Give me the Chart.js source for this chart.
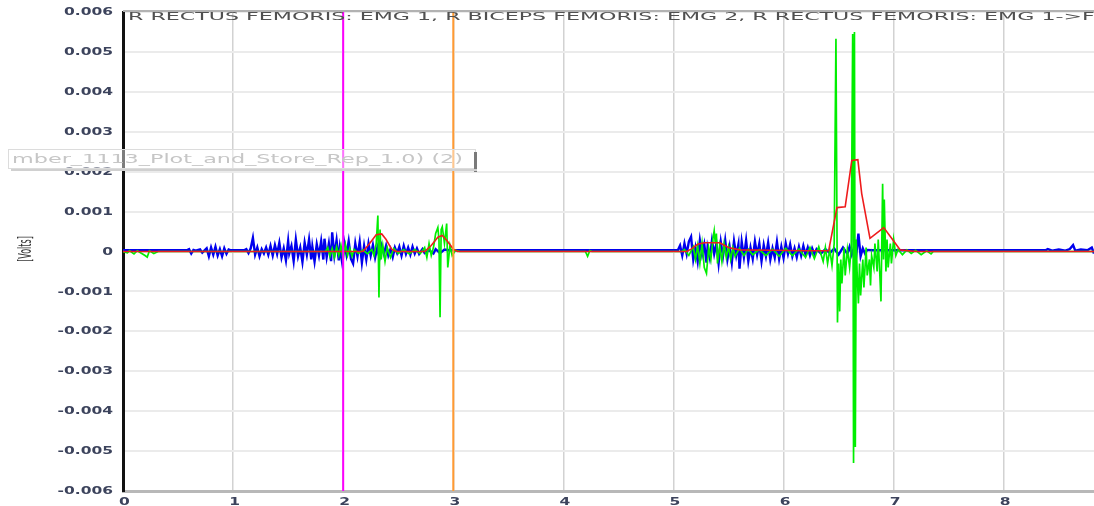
<!DOCTYPE html>
<html>
<head>
<meta charset="utf-8">
<script src="https://cdn.jsdelivr.net/npm/chart.js@4"></script>
<style>
  html, body { margin: 0; padding: 0; background: #fff; overflow: hidden; }
  #wrap { position: relative; width: 1094px; height: 506px; }
</style>
</head>
<body>
<div id="wrap"><canvas id="c" width="1094" height="506"></canvas></div>
<script>
// Signals as [time (s), millivolts]
const rectusEmg1 = [
  [0,0.03],[0.58,0.03],
  [0.6,0.06],[0.62,-0.05],[0.64,0.04],[0.66,0.02],[0.7,0.05],[0.72,-0.03],[0.76,0.08],[0.78,-0.12],[0.8,0.1],[0.82,-0.08],
  [0.84,0.12],[0.86,-0.1],[0.88,0.06],[0.9,-0.12],[0.92,0.08],[0.94,-0.06],[0.96,0.05],[0.98,0.03],[1.1,0.03],
  [1.12,0.06],[1.14,-0.04],[1.16,0.08],[1.18,0.34],[1.2,-0.08],[1.22,0.1],[1.24,-0.12],[1.26,0.06],[1.28,-0.05],[1.3,0.1],
  [1.32,-0.08],[1.34,0.14],
  [1.36,-0.1],[1.38,0.16],[1.40,-0.06],[1.42,0.22],[1.44,-0.15],[1.46,0.08],[1.48,-0.22],[1.50,0.26],[1.51,-0.05],[1.53,0.14],
  [1.55,-0.24],[1.57,0.3],[1.59,-0.12],[1.61,0.1],[1.63,-0.26],[1.65,0.22],[1.67,-0.08],[1.69,0.3],[1.71,-0.2],[1.72,0.12],
  [1.74,-0.25],[1.76,0.18],[1.78,-0.1],[1.80,0.26],[1.82,-0.2],[1.83,0.32],[1.85,-0.14],[1.87,0.2],[1.89,-0.24],[1.90,0.48],
  [1.92,-0.1],[1.94,0.28],[1.96,-0.22],[1.97,0.1],[1.99,-0.26],[2.01,0.22],[2.03,-0.08],[2.05,0.26],[2.07,-0.18],[2.09,-0.3],
  [2.11,0.2],[2.13,-0.12],[2.15,0.24],[2.17,-0.28],[2.19,0.14],[2.21,-0.2],[2.23,0.2],[2.25,-0.1],[2.27,0.16],[2.29,-0.15],
  [2.31,0.1],[2.33,-0.16],[2.35,0.14],[2.37,-0.06],[2.39,0.15],[2.41,-0.1],[2.43,0.06],[2.45,-0.14],[2.47,0.1],[2.49,-0.04],
  [2.51,0.12],[2.53,-0.1],[2.55,0.14],[2.57,-0.06],[2.59,0.1],[2.61,-0.08],[2.63,0.12],[2.65,-0.05],[2.67,0.08],[2.69,-0.06],
  [2.72,0.06],[2.74,-0.04],[2.78,0.03],[2.82,-0.05],[2.84,0.06],[2.88,-0.04],[2.92,0.05],[2.96,0.03],[5.04,0.03],
  [5.06,0.15],[5.08,-0.1],[5.10,0.2],[5.12,-0.06],[5.14,0.25],[5.16,0.37],[5.18,-0.2],[5.20,0.1],[5.22,-0.25],[5.24,0.28],
  [5.26,-0.08],[5.28,0.18],[5.30,-0.28],[5.31,0.1],[5.33,-0.16],[5.35,0.28],[5.37,-0.06],[5.39,0.2],[5.41,-0.3],[5.43,0.24],
  [5.45,-0.12],[5.47,0.28],[5.49,-0.2],[5.51,0.12],[5.53,-0.28],[5.55,0.26],[5.57,-0.1],[5.59,0.18],[5.60,-0.43],[5.62,0.24],
  [5.64,-0.14],[5.66,0.28],[5.68,-0.24],[5.70,0.1],[5.72,-0.18],[5.74,0.25],[5.76,-0.08],[5.78,0.2],[5.80,-0.24],[5.82,0.16],
  [5.84,-0.12],[5.86,0.22],[5.88,-0.2],[5.90,0.08],[5.92,-0.15],[5.94,0.24],[5.96,-0.18],[5.98,0.12],[6.00,-0.16],[6.02,0.2],
  [6.04,-0.06],[6.06,0.18],[6.08,-0.12],[6.10,0.08],[6.12,-0.14],[6.14,0.12],[6.16,-0.1],[6.18,0.14],[6.20,-0.08],[6.22,0.1],
  [6.24,-0.1],[6.26,0.08],[6.28,-0.06],[6.30,0.06],[6.34,-0.05],[6.38,0.06],[6.42,-0.04],[6.46,0.07],[6.50,-0.08],[6.54,0.1],
  [6.58,-0.06],[6.60,0.12],[6.62,-0.08],[6.64,0.1],[6.66,-0.1],[6.68,0.45],[6.70,-0.12],[6.72,0.08],[6.74,-0.05],[6.76,0.04],
  [6.80,0.03],[8.38,0.03],[8.40,0.06],[8.44,0.02],[8.50,0.05],[8.56,0.02],[8.60,0.06],[8.63,0.16],[8.65,0.02],[8.70,0.05],
  [8.76,0.03],[8.80,0.1],[8.82,-0.05]
];

const bicepsEmg2 = [
  [0,0],[0.04,-0.03],[0.06,0.02],[0.1,-0.06],[0.13,0.02],[0.2,-0.1],[0.22,-0.14],[0.24,0.02],[0.28,-0.05],[0.32,0],
  [1.84,0],[1.86,0.1],[1.88,-0.12],[1.9,0.08],[1.92,-0.15],[1.94,0.12],[1.96,-0.1],[1.98,0.15],[2.0,-0.2],[2.02,0.18],
  [2.04,-0.1],[2.06,0.08],[2.08,-0.12],[2.1,0.05],[2.14,-0.05],[2.18,0.04],[2.22,-0.06],[2.26,0.05],[2.28,-0.1],[2.3,0.2],
  [2.315,0.9],[2.325,-1.15],[2.335,0.55],[2.345,-0.2],[2.36,0.15],[2.38,-0.25],[2.4,0.1],[2.43,-0.15],[2.46,0.08],[2.5,-0.05],
  [2.55,0.05],[2.6,-0.06],[2.65,0.05],[2.7,-0.05],[2.74,0.1],[2.76,-0.15],[2.78,0.2],[2.8,-0.1],[2.82,0.1],[2.84,0.45],
  [2.86,0.6],[2.87,0.3],[2.88,-1.65],[2.89,0.55],[2.9,0.62],[2.92,0.2],[2.94,0.7],[2.95,-0.4],[2.97,0.15],[2.99,-0.1],
  [3.02,0.03],[3.06,0],[4.2,0],[4.22,-0.12],[4.24,0.02],[4.26,0],
  [5.08,0],[5.1,0.05],[5.14,-0.1],[5.18,0.12],[5.2,-0.2],[5.22,0.15],[5.24,-0.3],[5.26,0.2],[5.28,-0.4],[5.3,-0.55],
  [5.32,0.1],[5.34,-0.2],[5.36,0.35],[5.37,0.52],[5.38,0.2],[5.39,0.45],[5.4,-0.3],[5.42,0.15],[5.44,-0.25],[5.46,0.2],
  [5.48,-0.15],[5.5,0.12],[5.52,-0.2],[5.54,0.1],[5.56,-0.12],[5.6,0.08],[5.64,-0.1],[5.68,0.06],[5.72,-0.08],[5.78,0.05],
  [5.84,-0.1],[5.9,0.06],[5.96,-0.12],[6.02,0.08],[6.08,-0.1],[6.14,0.06],[6.2,-0.15],[6.24,0.1],[6.28,-0.18],[6.32,0.12],
  [6.36,-0.25],[6.38,0.1],[6.4,-0.3],[6.42,0.05],[6.44,-0.35],[6.46,0.2],[6.476,5.33],[6.49,-1.78],[6.5,-0.3],[6.51,-1.5],
  [6.52,-0.2],[6.53,-0.8],[6.55,0.1],[6.56,-0.6],[6.58,0.05],[6.6,-0.4],[6.615,0.1],[6.628,5.45],[6.636,-5.3],[6.644,5.5],
  [6.652,-4.9],[6.66,0.3],[6.668,-0.5],[6.68,-1.3],[6.69,-0.3],[6.70,-1.1],[6.72,-0.2],[6.73,-0.9],[6.75,0.1],[6.76,-0.6],
  [6.78,-0.2],[6.79,-0.85],[6.8,-0.1],[6.82,-0.4],[6.83,0.2],[6.85,-0.5],[6.86,0.3],[6.875,-0.6],[6.885,-1.25],[6.9,1.7],
  [6.908,-0.2],[6.915,1.3],[6.93,-0.5],[6.94,0.3],[6.95,-0.4],[6.97,0.2],[6.98,-0.3],[7.0,0.3],[7.02,-0.1],[7.04,0.05],
  [7.08,-0.08],[7.12,0.04],[7.16,-0.05],[7.2,0.03],[7.25,-0.08],[7.3,0.02],[7.34,-0.06],[7.36,0],[8.82,0]
];

const rectusEnvelope = [
  [0,0],[2.18,0],[2.24,0.2],[2.3,0.42],[2.35,0.44],[2.39,0.3],[2.44,0.06],[2.48,0],[2.74,0],[2.8,0.15],
  [2.86,0.36],[2.9,0.4],[2.94,0.28],[3.0,0.06],[3.04,0],[5.12,0],[5.16,0.06],[5.22,0.18],[5.28,0.22],[5.42,0.22],
  [5.5,0.1],[5.6,0.04],[5.9,0.03],[6.2,0.02],[6.41,0.02],[6.485,1.1],[6.56,1.12],[6.62,2.28],[6.675,2.3],[6.71,1.45],
  [6.785,0.33],[6.91,0.6],[6.995,0.28],[7.06,0.04],[7.2,0],[8.82,0]
];

// Cursor lines (s)
const cursorTimes = [2, 3];
const cursorColors = ['#ff00ff', '#ff9a33'];

const titleText = 'R RECTUS FEMORIS: EMG 1, R BICEPS FEMORIS: EMG 2, R RECTUS FEMORIS: EMG 1->F';
const windowCaption = 'mber_1113_Plot_and_Store_Rep_1.0) (2)';
const unitLabel = '[Volts]';

const X_MIN = 0, X_MAX = 8.82;
const Y_MIN = -0.006, Y_MAX = 0.006;

const FONT = "'DejaVu Sans', sans-serif";
const toPoints = arr => arr.map(([t, mv]) => ({ x: t, y: mv / 1000 }));
const fmtVolts = v => Math.abs(v) < 1e-9 ? '0' : (Math.round(v * 1000) / 1000).toFixed(3);

function drawStretched(ctx, text, x, y, align, sx, font, color) {
  ctx.save();
  ctx.translate(x, y);
  ctx.scale(sx, 1);
  ctx.font = font;
  ctx.fillStyle = color;
  ctx.textAlign = align;
  ctx.textBaseline = 'middle';
  ctx.fillText(text, 0, 0);
  ctx.restore();
}

const decorations = {
  id: 'decorations',
  afterDraw(chart) {
    const { ctx, chartArea: a, scales: { x, y } } = chart;
    ctx.save();

    // top frame line
    ctx.strokeStyle = '#b2b2b2';
    ctx.lineWidth = 2;
    ctx.beginPath();
    ctx.moveTo(a.left, a.top - 1);
    ctx.lineTo(a.right, a.top - 1);
    ctx.stroke();

    // tick labels
    const tickFont = 'bold 10px ' + FONT;
    const tickColor = '#3c435c';
    y.ticks.forEach(t => {
      drawStretched(ctx, fmtVolts(t.value), 113, y.getPixelForValue(t.value) + 0.5, 'right', 1.55, tickFont, tickColor);
    });
    x.ticks.forEach(t => {
      drawStretched(ctx, String(t.value), x.getPixelForValue(t.value) + 1.5, 502, 'center', 1.55, tickFont, tickColor);
    });

    // unit label, rotated
    ctx.save();
    ctx.translate(26, 249);
    ctx.scale(2.2, 1);
    ctx.rotate(-Math.PI / 2);
    ctx.font = '8px ' + FONT;
    ctx.fillStyle = '#333';
    ctx.textAlign = 'center';
    ctx.textBaseline = 'middle';
    ctx.fillText(unitLabel, 0, 0);
    ctx.restore();

    // title across the top of the plot
    ctx.font = '11px ' + FONT;
    const titleScale = 954 / ctx.measureText(titleText.slice(0, -1)).width;
    ctx.save();
    ctx.translate(128, 17.5);
    ctx.scale(titleScale, 1);
    ctx.fillStyle = '#505050';
    ctx.textAlign = 'left';
    ctx.textBaseline = 'middle';
    ctx.fillText(titleText, 0, 0);
    ctx.restore();

    // floating window caption
    const bx = 8, by = 149, bw = 468, bh = 20;
    ctx.fillStyle = 'rgba(255,255,255,0.45)';
    ctx.fillRect(bx, by, bw, bh);
    ctx.strokeStyle = '#dcdcdc';
    ctx.lineWidth = 1;
    ctx.strokeRect(bx + 0.5, by + 0.5, bw - 1, bh - 1);
    ctx.fillStyle = '#7a7a7a';
    ctx.fillRect(bx + bw - 2, by + 3, 3, bh);
    ctx.fillStyle = '#d0d0d0';
    ctx.fillRect(bx + 3, by + bh, bw - 2, 2);
    ctx.font = '13px ' + FONT;
    const capScale = 451 / ctx.measureText(windowCaption).width;
    drawStretched(ctx, windowCaption, 12, by + 10.5, 'left', capScale, '13px ' + FONT, '#c6c6c6');

    ctx.restore();
  }
};

const datasets = [
  ...cursorTimes.map((t, i) => ({
    data: [{ x: t, y: Y_MIN }, { x: t, y: Y_MAX }],
    borderColor: cursorColors[i], borderWidth: 2, order: 0
  })),
  { data: toPoints(rectusEnvelope), borderColor: '#ee1c1c', borderWidth: 1.6, order: 1 },
  { data: toPoints(bicepsEmg2), borderColor: '#00ee00', borderWidth: 1.7, order: 2 },
  { data: toPoints(rectusEmg1), borderColor: '#0000ee', borderWidth: 2.4, order: 3 }
];

new Chart(document.getElementById('c'), {
  type: 'line',
  data: { datasets },
  options: {
    responsive: false,
    animation: false,
    devicePixelRatio: 1,
    parsing: true,
    elements: { point: { radius: 0 }, line: { tension: 0, fill: false } },
    layout: { padding: { top: 12, left: 0, right: 0, bottom: 0 } },
    plugins: { legend: { display: false }, tooltip: { enabled: false }, title: { display: false } },
    scales: {
      x: {
        type: 'linear', min: X_MIN, max: X_MAX,
        ticks: { display: false, stepSize: 1, includeBounds: false },
        grid: { color: '#d2d2d2', lineWidth: 1.5, drawTicks: false },
        border: { color: '#b8b8b8', width: 3 },
        afterFit(s) { s.height = 15; }
      },
      y: {
        type: 'linear', min: Y_MIN, max: Y_MAX,
        ticks: { display: false, stepSize: 0.001 },
        grid: { color: '#ebebeb', lineWidth: 2, drawTicks: false },
        border: { color: '#111', width: 3 },
        afterFit(s) { s.width = 123; }
      }
    }
  },
  plugins: [decorations]
});
</script>
</body>
</html>
